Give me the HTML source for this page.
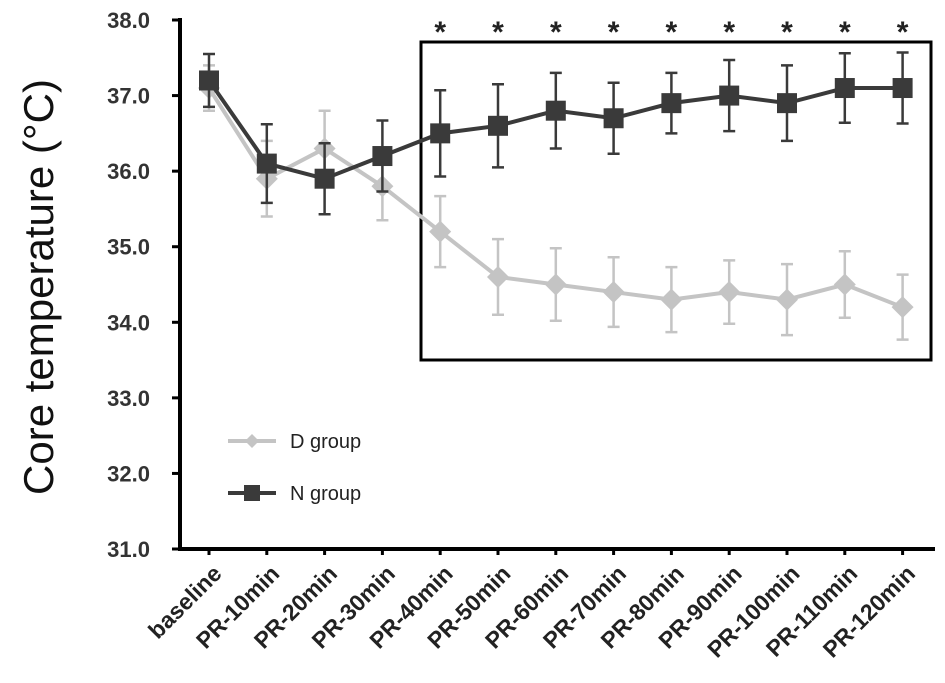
<!DOCTYPE html>
<html><head><meta charset="utf-8"><style>
body{margin:0;background:#fff;}
svg{display:block;font-family:"Liberation Sans",sans-serif;}
</style></head><body>
<svg width="945" height="683">
<g id="g"></g>
</svg>
<script>
const categories=["baseline","PR-10min","PR-20min","PR-30min","PR-40min","PR-50min","PR-60min","PR-70min","PR-80min","PR-90min","PR-100min","PR-110min","PR-120min"];
const dValues=[37.1,35.9,36.3,35.8,35.2,34.6,34.5,34.4,34.3,34.4,34.3,34.5,34.2];
const dErrors=[0.3,0.5,0.5,0.45,0.47,0.5,0.48,0.46,0.43,0.42,0.47,0.44,0.43];
const nValues=[37.2,36.1,35.9,36.2,36.5,36.6,36.8,36.7,36.9,37.0,36.9,37.1,37.1];
const nErrors=[0.35,0.52,0.47,0.47,0.57,0.55,0.5,0.47,0.4,0.47,0.5,0.46,0.47];
const significant=[false,false,false,false,true,true,true,true,true,true,true,true,true];
const yTicks=[31,32,33,34,35,36,37,38];
const NS="http://www.w3.org/2000/svg";
const g=document.getElementById('g');
const y=v=>549-(v-31)*75.57;
const x=i=>209+i*57.8;
function el(t,a,txt){const e=document.createElementNS(NS,t);for(const k in a)e.setAttribute(k,a[k]);if(txt!==undefined)e.textContent=txt;g.appendChild(e);return e;}
let e;
e=el('text',{x:0,y:0,transform:'translate(53,287) rotate(-90)','text-anchor':'middle','font-size':'42',fill:'#111'},'Core temperature (°C)');


e=el('line',{x1:180,y1:18,x2:180,y2:551,stroke:'#000','stroke-width':4});


e=el('line',{x1:178,y1:549,x2:935,y2:549,stroke:'#000','stroke-width':4});


yTicks.forEach(v=>{
 e=el('line',{x1:172,y1:y(v),x2:180,y2:y(v),stroke:'#000','stroke-width':3});
 
 
 e=el('text',{x:150,y:y(v)+8,'text-anchor':'end','font-size':'22','font-weight':'bold',fill:'#333'},v.toFixed(1));
 
 
});
categories.forEach((c,i)=>{
 e=el('line',{x1:x(i),y1:549,x2:x(i),y2:555,stroke:'#000','stroke-width':3});
 
 
 e=el('text',{x:0,y:0,transform:`translate(${x(i)+14},575) rotate(-45)`,'text-anchor':'end','font-size':'23','font-weight':'bold',fill:'#222'},c);
 
 
});
e=el('rect',{x:421,y:42,width:510,height:318,fill:'none',stroke:'#000','stroke-width':3});


significant.forEach((s,i)=>{if(!s)return;
 e=el('text',{x:x(i),y:42,'text-anchor':'middle','font-size':'30','font-weight':'bold',fill:'#222'},'*');
 
 
});
function series(vals,errs,color,shape,name){
 vals.forEach((v,i)=>{
  const a=y(v+errs[i]),b=y(v-errs[i]);
  e=el('path',{d:`M${x(i)},${a}V${b}M${x(i)-6},${a}H${x(i)+6}M${x(i)-6},${b}H${x(i)+6}`,stroke:color,'stroke-width':2.5,fill:'none'});
  
  
 });
 e=el('polyline',{points:vals.map((v,i)=>x(i)+','+y(v)).join(' '),stroke:color,'stroke-width':4,fill:'none'});
 
 
 vals.forEach((v,i)=>{
  if(shape==='sq') e=el('rect',{x:x(i)-10,y:y(v)-10,width:20,height:20,fill:color});
  else e=el('path',{d:`M${x(i)},${y(v)-11}L${x(i)+11},${y(v)}L${x(i)},${y(v)+11}L${x(i)-11},${y(v)}Z`,fill:color});
  
  
 });
}
series(dValues,dErrors,'#c4c4c4','dia','d-group');
series(nValues,nErrors,'#3a3a3a','sq','n-group');
e=el('path',{d:'M228,441H276',stroke:'#c4c4c4','stroke-width':4});


e=el('path',{d:'M252,434L259,441L252,448L245,441Z',fill:'#c4c4c4'});


e=el('text',{x:290,y:448,'font-size':'20',fill:'#222'},'D group');


e=el('path',{d:'M228,493H276',stroke:'#3a3a3a','stroke-width':4});


e=el('rect',{x:244,y:485,width:16,height:16,fill:'#3a3a3a'});


e=el('text',{x:290,y:500,'font-size':'20',fill:'#222'},'N group');


</script>
</body></html>
